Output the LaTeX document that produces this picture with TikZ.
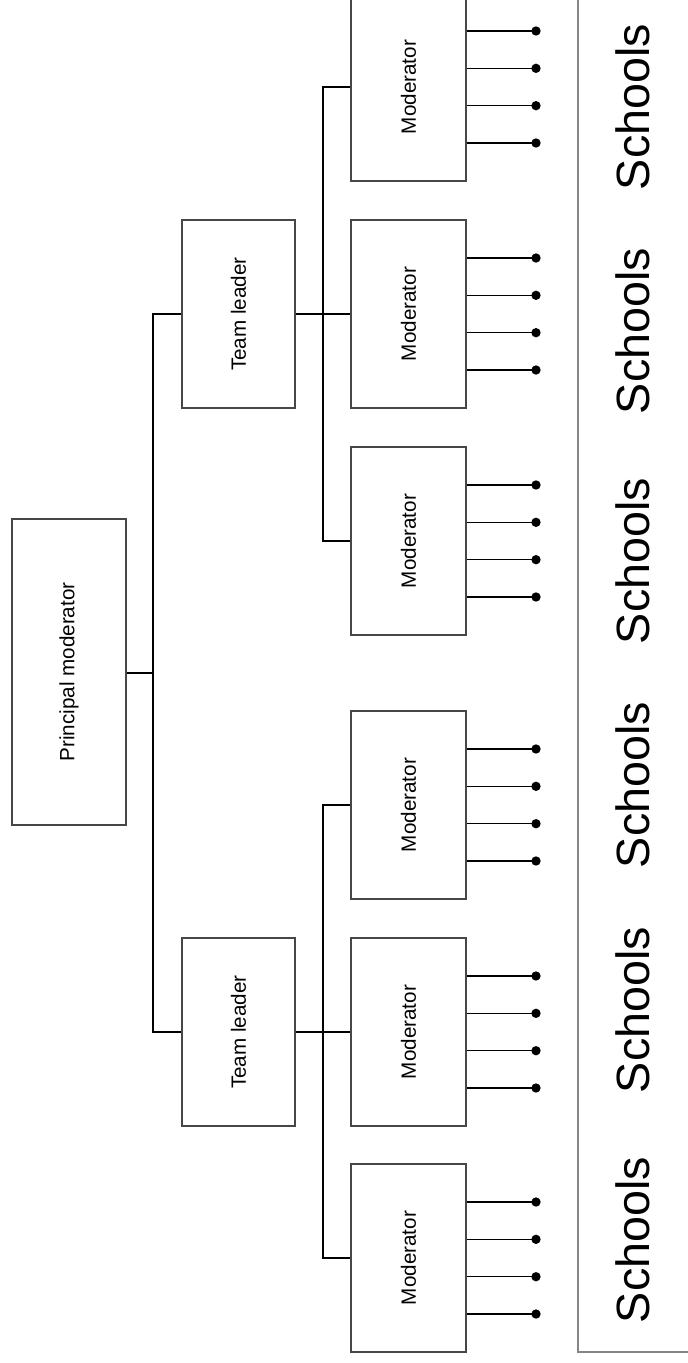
\documentclass[tikz,border=0pt]{standalone}
\usepackage{fontspec}
\setmainfont{Liberation Sans}
\usepackage{graphicx}
\begin{document}
\begin{tikzpicture}[x=0.75pt,y=-0.75pt,
  box/.style={draw=black!72, line width=1.1pt, fill=white, inner sep=0pt,
    font=\fontsize{15.5pt}{18pt}\selectfont},
  modbox/.style={box, minimum width=86.25pt, minimum height=141pt},
  teambox/.style={box, minimum width=84.75pt, minimum height=141pt},
  princbox/.style={box, minimum width=85.5pt, minimum height=229.5pt},
  conn/.style={draw=black, line width=1.1pt},
  dot/.style={circle, fill=black, inner sep=0pt, minimum size=7pt},
  school/.style={font=\fontsize{35pt}{40pt}\selectfont, inner sep=0pt, rotate=90, anchor=base},
  schoolline/.style={draw=black!48, line width=1.5pt}]
\useasboundingbox (0,0) rectangle (688,1363);
\clip (0,0) rectangle (688,1363);

% principal moderator and team leaders
\node[princbox] (P) at (69,672) {\rotatebox{90}{Principal moderator}};
\node[teambox] (T1) at (238.5,314) {\rotatebox{90}{Team leader}};
\node[teambox] (T2) at (238.5,1032) {\rotatebox{90}{Team leader}};

\coordinate (J0) at (153,673);
\coordinate (Jt) at (323,314);
\coordinate (Jb) at (323,1032);

% moderators with their schools
\foreach \i/\c in {1/87,2/314,3/541,4/805,5/1032,6/1258}{
  \node[modbox] (M\i) at (408.5,\c) {\rotatebox{90}{Moderator}};
  \foreach \j/\o in {1/-56,2/-18.7,3/18.7,4/56}{
    \node[dot] (D\i\j) at (536,{\c+(\o)}) {};
    \draw[conn] (M\i.east |- D\i\j) -- (D\i\j.center);
  }
}

% connectors
\draw[conn] (P.east |- J0) -- (J0);
\draw[conn] (T1.west) -- (T1.west -| J0) -- (T2.west -| J0) -- (T2.west);
\draw[conn] (T1.east) -- (M2.west);
\draw[conn] (M1.west) -- (M1.west -| Jt) -- (M3.west -| Jt) -- (M3.west);
\draw[conn] (T2.east) -- (M5.west);
\draw[conn] (M4.west) -- (M4.west -| Jb) -- (M6.west -| Jb) -- (M6.west);

% schools column
\draw[schoolline] (578,-10) -- (578,1352) -- (700,1352);
\foreach \k/\y in {1/107,2/331,3/561,4/785,5/1010,6/1240}{
  \node[school] (S\k) at (649,\y) {Schools};
}
\end{tikzpicture}
\end{document}
